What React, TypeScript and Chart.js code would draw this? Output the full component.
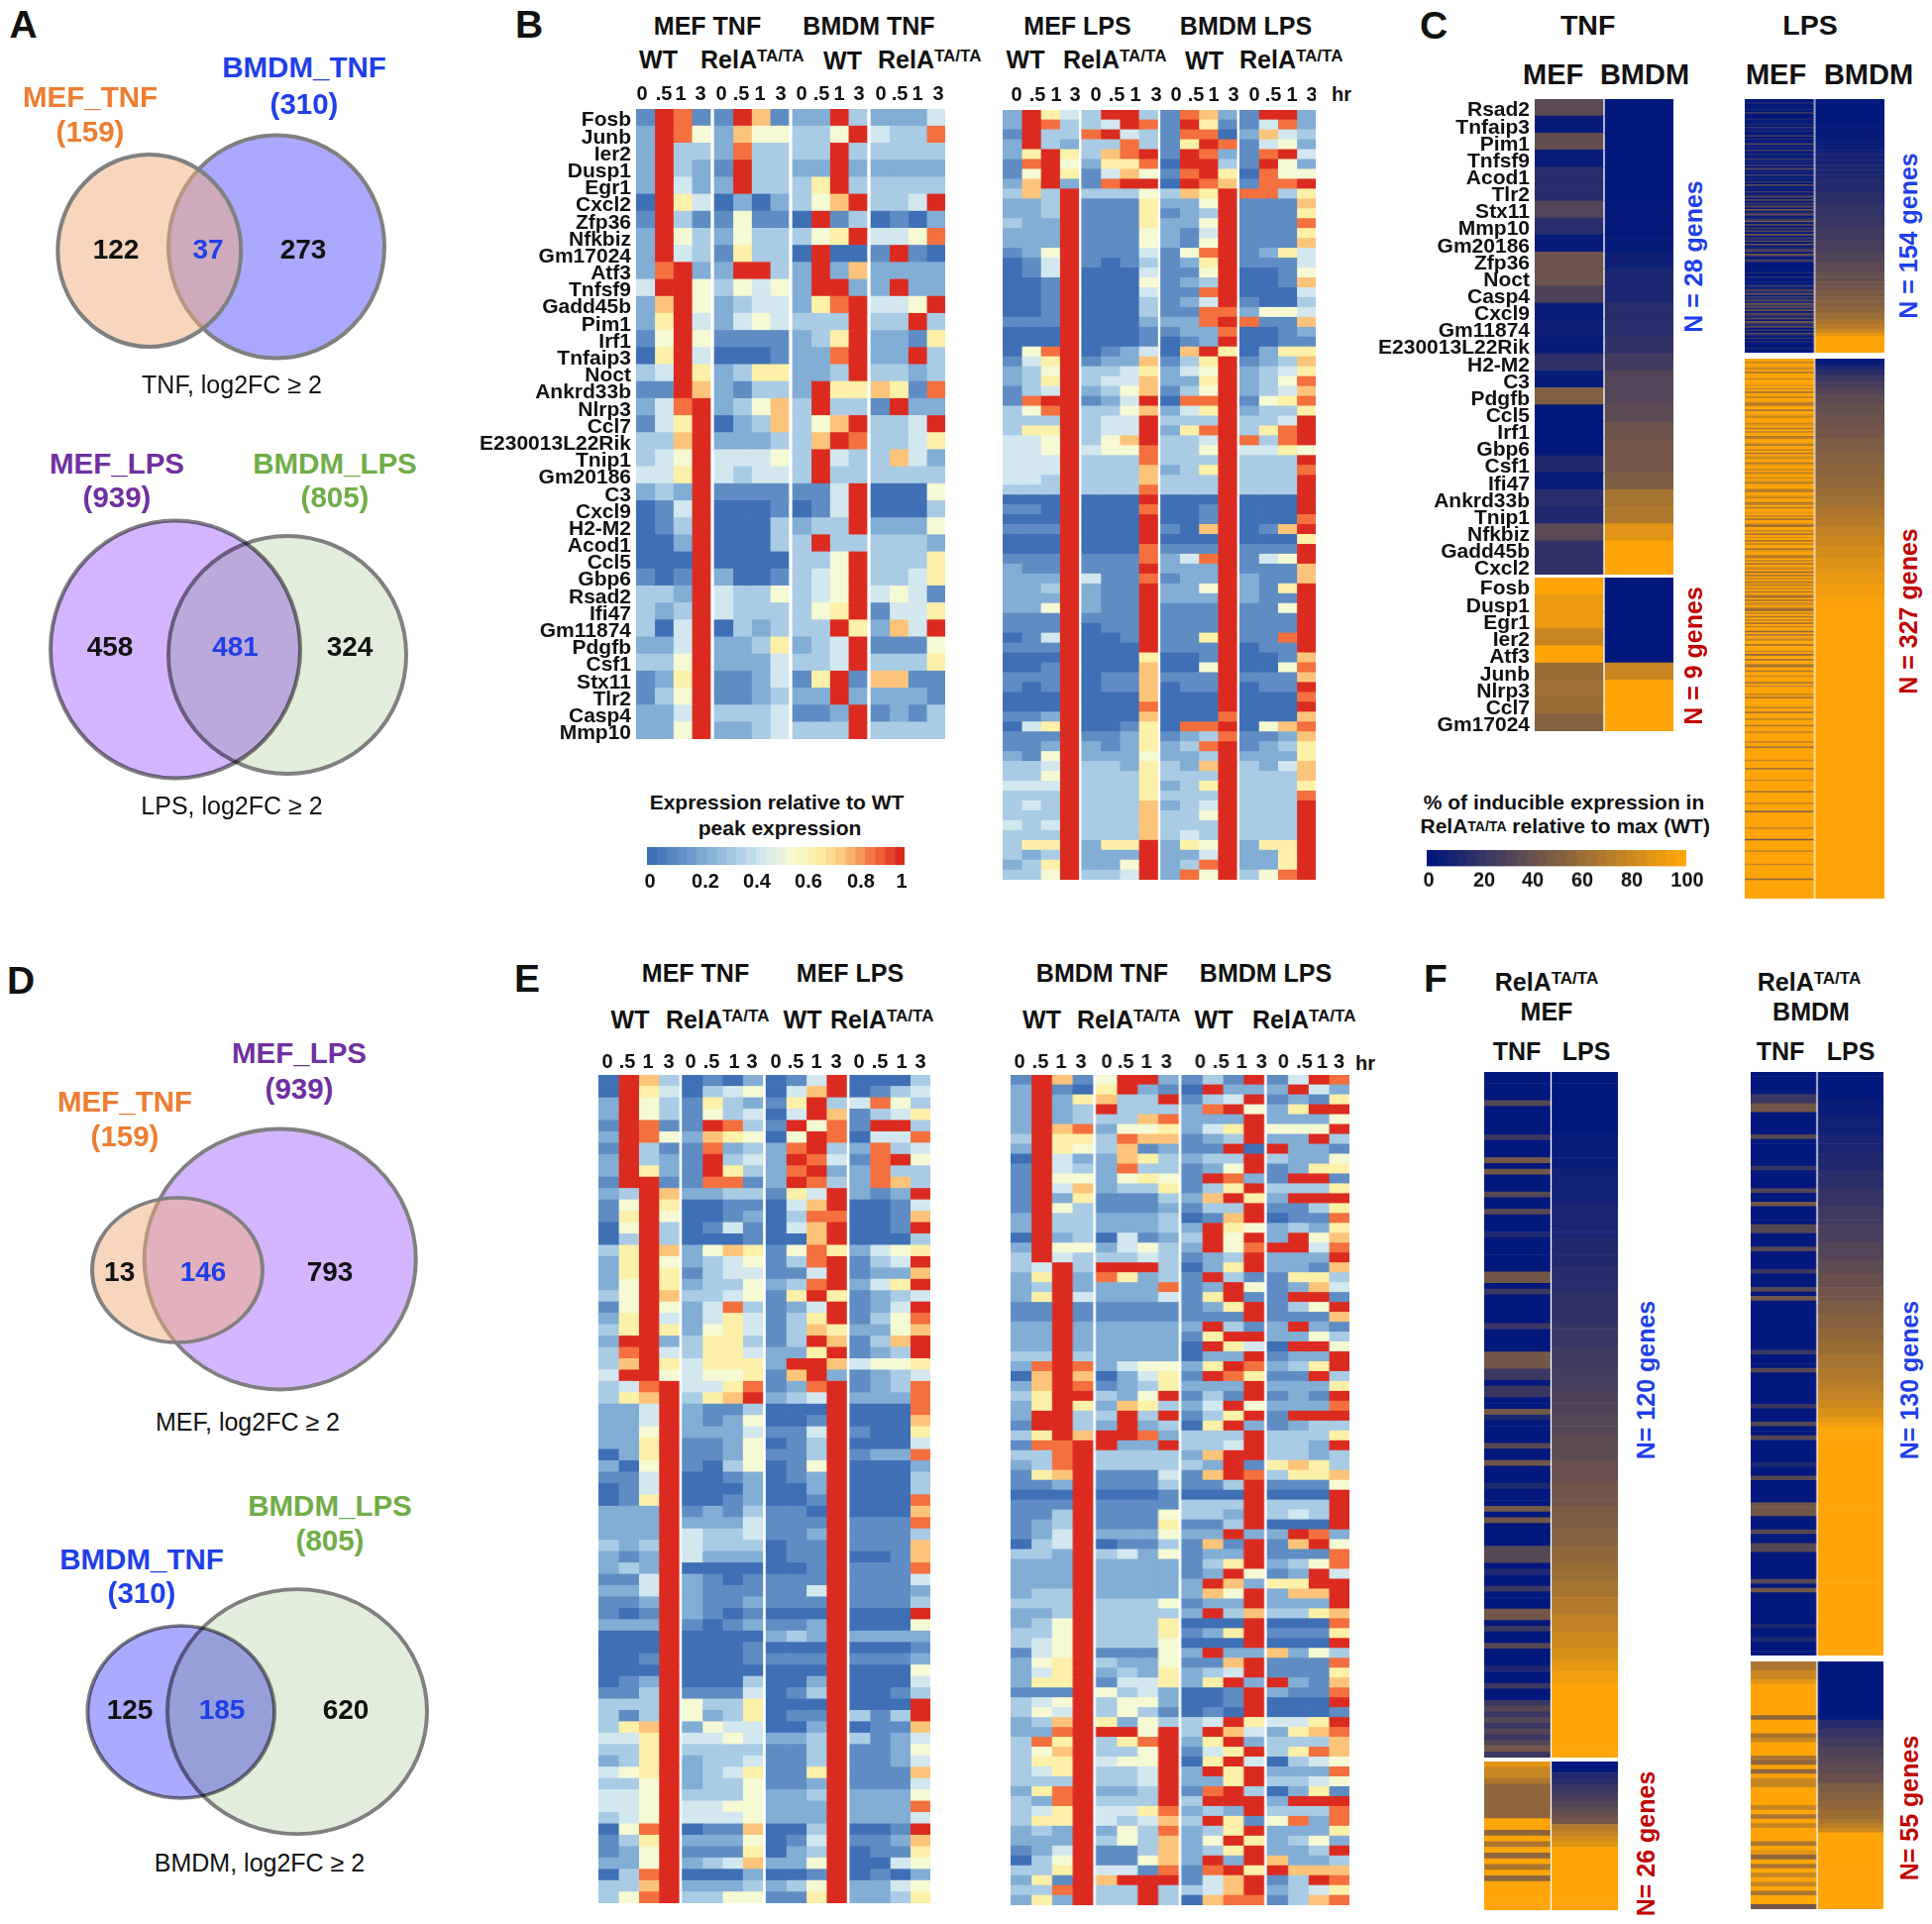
import React, { useEffect, useRef } from "react";
import { Chart, registerables } from "chart.js";

Chart.register(...registerables);

const FONT = "'Liberation Sans', Arial, sans-serif";

// ---------- Gene names ----------
const tnfGenes = ["Fosb","Junb","Ier2","Dusp1","Egr1","Cxcl2","Zfp36","Nfkbiz","Gm17024","Atf3","Tnfsf9","Gadd45b","Pim1","Irf1","Tnfaip3","Noct","Ankrd33b","Nlrp3","Ccl7","E230013L22Rik","Tnip1","Gm20186","C3","Cxcl9","H2-M2","Acod1","Ccl5","Gbp6","Rsad2","Ifi47","Gm11874","Pdgfb","Csf1","Stx11","Tlr2","Casp4","Mmp10"];
const cGenesTop = ["Rsad2","Tnfaip3","Pim1","Tnfsf9","Acod1","Tlr2","Stx11","Mmp10","Gm20186","Zfp36","Noct","Casp4","Cxcl9","Gm11874","E230013L22Rik","H2-M2","C3","Pdgfb","Ccl5","Irf1","Gbp6","Csf1","Ifi47","Ankrd33b","Tnip1","Nfkbiz","Gadd45b","Cxcl2"];
const cGenesBottom = ["Fosb","Dusp1","Egr1","Ier2","Atf3","Junb","Nlrp3","Ccl7","Gm17024"];

// ---------- Panel B, left heatmap (level 0-9, MEF WT | MEF RelA | BMDM WT | BMDM RelA) ----------
const heatBLeft = [
"1981 1971 2293 2224","2985 2755 3359 4338","2933 2833 3393 3333","2932 1933 2292 2222","2942 2933 3693 3333",
"0964 0202 3579 3349","1931 1511 0913 0102","2953 2533 3569 4458","2943 1633 0900 1910","2892 2993 2927 2222",
"4995 3545 2992 2922","2795 2344 2689 4459","2694 2454 3339 3393","1595 1111 2369 2216","0694 0001 2289 2293",
"3496 2366 2239 3323","1197 2133 2966 7618","2489 2357 3933 1922","1469 0237 3579 3349","3379 2223 3798 3346",
"3459 4445 3943 3742","4469 4344 3933 3333","2329 1111 1149 0005","0149 0001 0149 0003","0139 0003 2339 2225",
"0029 0003 3933 3332","0009 0000 3359 3336","1019 2001 3459 3346","3329 4335 3459 4541","3239 4333 3569 1446",
"3049 0323 3396 2749","2249 2236 2349 1115","3359 2224 3349 3336","1269 1124 1691 7711","1359 1123 2292 2221",
"2249 3334 1129 1213","2259 2234 3339 3333"];

const cTnfTopMef = [35,2,38,3,15,15,32,15,2,42,42,30,3,4,2,18,2,50,0,0,0,12,3,15,12,35,18,18];
const cTnfTopBmdm = [0,0,0,0,0,0,1,1,2,5,10,10,15,15,18,25,32,32,35,42,45,45,48,65,68,88,100,100];
const cTnfBottomMef = [100,92,92,78,100,60,62,60,52];
const cTnfBottomBmdm = [0,0,0,0,0,78,100,100,100];

// ---------- Panel B, right heatmap ----------
const heatBRight = [
"2964 3993 1872 1992","2983 3498 1961 1482","1933 8943 1880 2743","2932 3383 1698 1452","2696 3789 1982 1894",
"1895 2668 0993 1952","1596 1475 1896 0855","2792 1899 0987 1889","3739 3335 3769 8836","2239 1116 2259 1117",
"2239 1116 1239 1116","3229 1116 2259 1118","2229 1115 2149 1116","2229 1115 2159 1117","1259 1114 1589 1264",
"0149 1013 1269 1114","0149 0004 1159 0015","0019 0005 1239 0017","0019 0004 1189 0004","0019 0003 1249 1003",
"0019 0003 1188 2554","1119 0002 2289 8117","0009 0001 1228 0012","0009 0001 0129 0011","0589 0124 0796 0266",
"1469 1227 1369 1237","2359 3346 2459 2346","2369 3447 2269 2358","1349 2357 1359 2347","1899 1249 0889 1568",
"3589 3357 2469 2336","3339 3449 3339 3349","3669 3449 2689 3689","4459 3579 3349 8389","4459 4558 3359 4465",
"4449 3338 3339 3339","4449 3337 2369 3338","4439 3337 3339 3339","3339 3338 3339 3339","0009 0009 0009 0009",
"1109 0008 0019 0009","0009 0009 0019 0008","1119 0009 1079 0179","0009 0009 0009 0006","0009 0008 1119 1119",
"1119 1118 2489 1459","2119 1119 2229 1117","2229 4118 1229 2117","2239 2119 2259 2169","2229 2119 2229 2119",
"2259 2119 1119 1159","1119 1119 1119 1119","1119 0119 1119 1119","0149 0019 1169 1189","1119 0009 1119 0119",
"0009 0006 0019 0017","0019 0007 0059 0058","1119 0117 1119 1117","1019 0117 0119 0119","0009 0007 0009 0008",
"0009 0008 0009 0009","1129 0007 0008 0007","0469 0016 0889 0578","1119 1126 1238 1127","1129 2126 2389 1236",
"2159 2225 2239 2226","3349 3326 3279 3247","3359 3336 3339 3337","4449 3336 2369 3336","3339 3336 3339 3338",
"3439 3337 2349 3339","3339 3337 3359 3339","4349 3337 3339 3339","3339 3337 3439 3339","3669 2669 2659 2669",
"3239 2229 2249 2269","2369 2259 2389 2269","3359 3349 2859 3589"];

// ---------- Panel E, left heatmap (MEF TNF WT | MEF TNF RelA | MEF LPS WT | MEF LPS RelA) ----------
const heatELeft = [
"0973 0102 0149 0003","0964 0345 0479 0134","2953 1632 1693 4853","2953 1534 0497 1346","1981 1983 1958 1993",
"2985 2765 0598 0448","1931 1823 2893 2834","2932 1934 2984 1895","2962 1963 2892 2833","1991 1881 2983 2873",
"2397 2233 1649 2129","1596 0011 0479 0014","1695 0012 0388 0017","0593 0141 0479 0019","0393 0001 0079 0003",
"3697 2576 1586 2456","2695 2345 1389 1349","2696 1344 1149 1227","2596 2335 2389 2469","3597 3345 1696 1234",
"1595 2483 1249 1249","2694 2464 1369 1358","3696 2564 1376 2257","2992 3663 1397 1379","3894 3664 2269 1239",
"3796 4666 2997 4556","4995 4556 1792 1234","3489 4468 1289 1238","3679 3679 2349 2228","2249 2113 0009 0008",
"2249 2125 0019 0007","2259 2224 1149 1006","2269 1125 0139 0004","0269 1125 1139 1228","2059 1035 0159 0002",
"1149 0012 0129 0003","0149 0002 0029 0003","0169 0012 0019 0008","2229 1213 1109 0007","2229 2224 1119 1118",
"2229 4334 1129 1113","3239 4333 0119 1117","2129 4222 0119 0017","2329 0000 0019 1118","1149 2101 1119 1114",
"2249 2111 1149 1112","1129 2112 1119 1113","1019 2101 0009 0009","2229 1012 1129 0005","0009 0000 2329 2222",
"0009 0001 0009 0001","0019 0001 1119 1112","0009 0000 0009 0005","0129 0003 0029 0004","1139 1114 0139 0013",
"3339 5336 0009 0009","3139 5236 0119 3139","3679 2544 0029 0117","4469 4454 2239 3124","3369 3333 1139 1125",
"2369 2334 1139 1124","4569 2346 1169 1117","3359 2335 1129 1114","4459 3335 2239 2225","4459 4455 2229 2228",
"3459 4445 2229 2224","0589 0117 0039 0019","1369 2225 0149 1127","1259 1116 0239 0116","2259 2347 2259 0045",
"0389 0002 0019 0102","3379 2223 2359 2245","3589 3355 1169 2236"];

// ---------- Panel E, right heatmap (BMDM TNF WT | BMDM TNF RelA | BMDM LPS WT | BMDM LPS RelA) ----------
const heatERight = [
"1971 5992 1319 1498","2910 6921 0922 2942","2926 7339 1349 1216","2923 9333 2895 2699","2923 3378 2229 2225",
"2978 2556 2469 5559","3966 3877 1239 2293","2965 3712 1190 9221","0942 2763 2339 3225","1943 2833 1259 1266",
"1955 2565 1982 1991","1947 2336 1369 3336","1926 1113 2796 2999","1953 1112 1339 1136","2933 2223 0179 0118",
"2933 2223 2965 2326","0923 0412 3959 2957","2955 2453 2958 9948","3943 3343 1239 2229","3493 9993 0269 2217",
"2692 8623 1931 1663","2392 2228 1295 1274","2694 2224 1691 1991","1191 1111 1269 1359","1191 1111 1119 1117",
"2292 2222 2931 2921","2292 2222 1699 2253","2292 2222 0964 0995","3393 2222 0229 1229","2898 2455 2698 2369",
"0797 0246 1986 1193","2798 1236 2229 2226","3699 3259 1319 1219","2696 2763 2495 2228","2993 3939 1369 1999",
"1993 2923 0692 1233","3697 9982 3339 3336","1889 9229 3349 3329","3389 3333 2799 3323","2389 3333 3291 6763",
"1679 1114 1798 3667","1129 1113 1139 1115","0009 0001 0009 0009","1119 1111 3339 3339","1139 1115 3329 3439",
"1239 1116 1139 0009","1249 2225 2292 2982","0349 0113 1719 1795","3329 3425 1229 1118","2229 2222 1369 2358",
"2229 2222 1295 1294","2229 2222 2972 6699","2339 2222 2759 2779","3339 3335 1229 2229","2239 3333 2937 3367",
"2359 3336 0009 0008","3359 3336 1269 1116","3459 3335 0009 0009","1459 1115 2922 7253","2569 3225 1179 1118",
"2469 2326 2349 1116","2669 1446 2692 9217","1119 5342 0019 2118","3459 3552 0019 0009","3549 3531 0109 0001",
"2379 6253 3496 4469","2289 9959 3974 2678","3869 3689 2692 3337","3579 3359 1469 3687","3669 4559 0694 0345",
"3469 3349 2969 2228","3339 3349 2269 3345","2689 2239 1893 0261","3289 3339 3999 2999","3469 4468 2329 3338",
"3669 4347 3961 5828","2329 2538 2369 2226","2229 3537 2596 2352","1249 1137 2369 2239","0359 1157 2929 7223",
"3369 4418 1896 9777","2619 7999 1479 1398","3389 3393 3479 2346","2629 3393 0788 1378"];

// ---------- Panel C, LPS columns (stripes: level 0-9; sorted columns: [percent, rows]) ----------
const lpsTopMef = "00100010200010010201"+"00201003010201002010"+"20301020102030102013"+"03021304023012403021"+"30402130401230420130"+"00000100100002013040"+"21304231403213042130"+"20310201000100";
const lpsTopBmdmRuns = [[0,14],[2,10],[4,8],[7,8],[10,8],[13,8],[16,8],[19,8],[22,7],[25,7],[28,7],[31,6],[35,6],[39,6],[43,5],[47,5],[51,5],[55,4],[60,4],[66,3],[72,3],[80,2],[90,2],[100,10]];
const lpsBottomMef = "99799879699979998979"+"69979986799699879997"+"89697996799869979698"+"79968997969979869997"+"69987996796998979699"+"75997969896979968997"+"69796987959697968797"+"96975969789659796979"+"69799596987996999795"+"99699759969979996979"+"99979699999799699979"+"99699979999979969999"+"99979999699999979999"+"99699999979999599999"+"99997999999499999979"+"99999979999999959999"+"9999999";
const lpsBottomBmdmRuns = [[2,4],[10,3],[16,3],[22,4],[28,4],[32,4],[36,6],[39,6],[42,7],[45,7],[48,8],[51,8],[54,8],[57,6],[60,6],[63,6],[67,6],[71,6],[75,6],[79,6],[83,7],[87,8],[91,8],[95,8],[98,6],[100,176]];

// ---------- Panel F columns ----------
const fMefTopTnf = "0000030000"+"0200040400"+"0300300010"+"0000044020"+"0000200004"+"4422022004"+"1000030040"+"0010004040"+"0003330100"+"2000440200"+"3000100200"+"2323232342";
const fMefTopLpsRuns = [[0,11],[3,6],[6,6],[9,6],[12,5],[15,5],[18,5],[21,4],[24,4],[27,4],[30,4],[33,4],[36,4],[40,4],[44,4],[48,4],[52,3],[56,3],[60,3],[65,3],[70,3],[75,3],[80,3],[85,2],[90,2],[95,2],[100,13]];
const fMefBottomTnf = "87765555559959695969599999";
const fMefBottomLpsRuns = [[0,2],[12,1],[16,1],[20,1],[24,1],[28,1],[32,1],[36,1],[40,1],[44,1],[70,1],[76,1],[82,1],[88,1],[100,11]];
const fBmdmTopTnf = "0000022440"+"0000300000"+"0200003004"+"0000330003"+"0000200030"+"4000000000"+"0020003000"+"0000200030"+"0300000100"+"3000004440"+"0030033000"+"0003040000"+"0001001000";
const fBmdmTopLpsRuns = [[0,6],[3,4],[6,4],[9,4],[12,4],[16,4],[20,4],[24,4],[28,4],[32,4],[36,3],[40,3],[44,3],[48,3],[52,3],[56,3],[60,3],[64,3],[68,3],[72,2],[76,2],[80,2],[85,2],[90,1],[95,1],[100,51]];
const fBmdmBottomTnf = "6677899999995999679996595977999979697999698596979796994";
const fBmdmBottomLpsRuns = [[0,13],[15,2],[20,2],[25,2],[30,2],[33,2],[36,2],[40,2],[48,2],[52,2],[56,2],[60,2],[66,1],[72,1],[80,1],[100,17]];

// ---------- Colour-bar steps and ticks ----------
const exprSteps = [0,.04,.08,.12,.16,.2,.24,.28,.32,.36,.4,.44,.48,.52,.56,.6,.64,.68,.72,.76,.8,.84,.88,.92,.96,1];
const exprTickPx = [656,712,764,816,869,910];
const exprTickLabels = ["0","0.2","0.4","0.6","0.8","1"];
const pctSteps = [0,4,8,12,16,20,24,28,32,36,40,44,48,52,56,60,64,68,72,76,80,84,88,92,96,100];
const pctTickPx = [1442,1498,1547,1597,1647,1703];
const pctTickLabels = ["0","20","40","60","80","100"];

// ---------- Time ticks ----------
const timeLabels = ["0",".5","1","3","0",".5","1","3","0",".5","1","3","0",".5","1","3"];
const timeBLeftPx = [648,670,687,707,728,748,767,788,809,829,847,867,889,908,926,947];
const timeBRightPx = [1026,1047,1066,1085,1106,1127,1146,1167,1187,1207,1225,1245,1266,1285,1304,1324];
const timeELeftPx = [613,633,654,675,697,718,741,759,783,803,824,844,867,888,910,929];
const timeERightPx = [1029,1050,1071,1091,1117,1136,1157,1177,1211,1232,1253,1273,1295,1316,1334,1351];

// ---------- Venn sets (centre, horizontal and vertical radius in each diagram's own units) ----------
const vennATop = [{x:150.8,y:133,r:92.5,ry:97},{x:279,y:129,r:109,ry:112.5}];
const vennABottom = [{x:177,y:145.5,r:126,ry:130},{x:290,y:151,r:120,ry:120}];
const vennDTop = [{x:179,y:152,r:86,ry:73},{x:282.7,y:141,r:137,ry:131.5}];
const vennDBottom = [{x:182.7,y:133,r:94.3,ry:87},{x:300,y:132.6,r:131,ry:123.5}];

// ---------- Colours ----------
const EXPR = [[63,111,181],[95,141,195],[130,173,213],[169,203,228],[211,231,239],[245,249,212],[253,240,168],[252,196,122],[244,112,63],[219,43,32]];
const exprColor = (v) => {
  const t = Math.max(0, Math.min(1, v)) * 9;
  const i = Math.min(8, Math.floor(t));
  const f = t - i;
  const c = EXPR[i].map((a, k) => Math.round(a + (EXPR[i + 1][k] - a) * f));
  return `rgb(${c[0]},${c[1]},${c[2]})`;
};
const pctColor = (p) => {
  const f = p / 100;
  return `rgb(${Math.round(2 + 253 * f)},${Math.round(24 + 141 * f)},${Math.round(124 - 116 * f)})`;
};

const expand = (runs) => runs.flatMap(([p, n]) => Array(n).fill(p));
const pctOf = (s) => s.split("").map((d) => (Number(d) * 100) / 9);
const digitRows = (rows) => rows.map((r) => r.replace(/\s/g, "").split("").map((d) => Number(d) / 9));
const colsToRows = (cols) => {
  const n = Math.max(...cols.map((c) => c.length));
  return Array.from({ length: n }, (_, i) => cols.map((c) => c[Math.min(i, c.length - 1)]));
};
const arrsToRows = (a, b) => a.map((v, i) => [v, b[i]]);

// ---------- Heatmap drawn as stacked horizontal bars ----------
function Heat({ x, y, w, h, rows, color, groupSize, gap, labels, labelW = 0, tickPx, tickLabels, tickH = 0, tickPad = 2, tickBottom = false, tickSize = 20, padX = 0 }) {
  const ref = useRef(null);
  const padB = labels ? 12 : 0;
  useEffect(() => {
    const nCols = rows[0].length;
    const nGroups = Math.ceil(nCols / groupSize);
    const colW = (w - gap * (nGroups - 1)) / nCols;
    const gapUnits = gap / colW;
    const max = nCols + gapUnits * (nGroups - 1);
    const catLabels = labels || rows.map((_, i) => String(i));
    const datasets = [];
    for (let c = 0; c < nCols; c++) {
      if (c > 0 && c % groupSize === 0) {
        datasets.push({ data: rows.map(() => gapUnits), backgroundColor: "rgba(0,0,0,0)" });
      }
      datasets.push({ data: rows.map(() => 1), backgroundColor: rows.map((r) => color(r[c])) });
    }
    const tickVals = tickPx ? tickPx.map((p) => ((p - x) / w) * max) : [];
    const noPad = (s) => { s.paddingLeft = 0; s.paddingRight = 0; s.paddingTop = 0; s.paddingBottom = 0; };
    const chart = new Chart(ref.current, {
      type: "bar",
      data: { labels: catLabels, datasets },
      options: {
        indexAxis: "y",
        animation: false,
        responsive: false,
        maintainAspectRatio: false,
        devicePixelRatio: 1,
        events: [],
        layout: { padding: { left: padX, right: padX, top: 0, bottom: padB }, autoPadding: false },
        datasets: { bar: { barPercentage: 1, categoryPercentage: 1, borderWidth: 0 } },
        plugins: { legend: { display: false }, tooltip: { enabled: false }, title: { display: false } },
        scales: {
          y: {
            stacked: true,
            display: !!labels,
            grid: { display: false, drawTicks: false },
            border: { display: false },
            afterFit: (s) => { s.width = labelW; noPad(s); },
            ticks: { autoSkip: false, padding: 5, labelOffset: 3, color: "#111", font: { family: FONT, size: 21, weight: "bold" } },
          },
          x: {
            type: "linear",
            stacked: true,
            min: 0,
            max,
            display: !!tickPx,
            position: tickBottom ? "bottom" : "top",
            grid: { display: false, drawTicks: false },
            border: { display: false },
            afterFit: (s) => { s.height = tickH; noPad(s); },
            afterBuildTicks: (s) => { s.ticks = tickVals.map((value) => ({ value })); },
            ticks: {
              autoSkip: false,
              maxRotation: 0,
              minRotation: 0,
              padding: tickPad,
              color: "#111",
              font: { family: FONT, size: tickSize, weight: "bold" },
              callback: (_v, i) => tickLabels[i],
            },
          },
        },
      },
    });
    return () => chart.destroy();
  }, []);
  const cw = w + labelW + padX * 2;
  const ch = h + tickH + padB;
  return (
    <canvas
      ref={ref}
      width={cw}
      height={ch}
      style={{ position: "absolute", left: x - labelW - padX, top: tickBottom ? y : y - tickH, width: cw, height: ch, display: "block" }}
    />
  );
}

// ---------- Venn diagrams: bubble chart, each bubble stretched to its vertical radius ----------
const ellipsePlugin = {
  id: "ellipse",
  beforeDatasetDraw(chart, args) {
    const ds = chart.data.datasets[args.index];
    const p = args.meta.data[0];
    const ctx = chart.ctx;
    ctx.save();
    if (ds.blend) ctx.globalCompositeOperation = ds.blend;
    ctx.translate(p.x, p.y);
    ctx.scale(1, ds.data[0].ry / ds.data[0].r);
    ctx.translate(-p.x, -p.y);
  },
  afterDatasetDraw(chart) {
    chart.ctx.restore();
  },
};

function Venn({ top, height, sets, fills, blends }) {
  const ref = useRef(null);
  useEffect(() => {
    const chart = new Chart(ref.current, {
      type: "bubble",
      data: {
        datasets: sets.map((s, i) => ({
          data: [s],
          backgroundColor: fills[i],
          borderColor: "#808080",
          borderWidth: 4,
          blend: blends ? blends[i] : undefined,
          clip: false,
        })),
      },
      options: {
        animation: false,
        responsive: false,
        maintainAspectRatio: false,
        devicePixelRatio: 1,
        events: [],
        layout: { padding: 0, autoPadding: false },
        plugins: { legend: { display: false }, tooltip: { enabled: false } },
        scales: {
          x: { type: "linear", min: 0, max: 480, display: false },
          y: { type: "linear", min: 0, max: height, reverse: true, display: false },
        },
      },
      plugins: [ellipsePlugin],
    });
    return () => chart.destroy();
  }, []);
  return <canvas ref={ref} width={480} height={height} style={{ position: "absolute", left: 0, top, width: 480, height, display: "block" }} />;
}

// ---------- Text ----------
function T({ x, y, s = 25, c = "#111", w = "bold", a = "c", r = false, children }) {
  const tx = a === "c" ? "-50%" : a === "r" ? "-100%" : "0";
  return (
    <div
      style={{
        position: "absolute",
        left: x,
        top: y,
        fontFamily: FONT,
        fontSize: s,
        fontWeight: w,
        color: c,
        lineHeight: 1,
        whiteSpace: "nowrap",
        transform: `translate(${tx},-50%)${r ? " rotate(-90deg)" : ""}`,
      }}
    >
      {children}
    </div>
  );
}
const Rela = () => (
  <span>RelA<span style={{ fontSize: 17, verticalAlign: 7, lineHeight: 0 }}>TA/TA</span></span>
);

const ORANGE = "#ed7d31";
const BLUE = "#1f3fe8";
const PURPLE = "#7030a0";
const GREEN = "#70ad47";
const RED = "#c00000";

export default function App() {
  return (
    <div style={{ position: "absolute", left: 0, top: 0, width: 1950, height: 1942, background: "#fff", overflow: "hidden" }}>
      {/* Panel letters */}
      <T x={23.5} y={24} s={39}>A</T>
      <T x={534} y={24} s={39}>B</T>
      <T x={1447} y={25} s={39}>C</T>
      <T x={21} y={989} s={39}>D</T>
      <T x={532} y={987} s={39}>E</T>
      <T x={1449} y={987} s={39}>F</T>

      {/* Panel A */}
      <Venn top={120} height={260} sets={vennATop} fills={["rgba(241,173,123,0.5)", "rgba(86,84,255,0.5)"]} />
      <T x={307} y={68} s={29.5} c={BLUE}>BMDM_TNF</T>
      <T x={307} y={105} s={29.5} c={BLUE}>(310)</T>
      <T x={91} y={98} s={29.5} c={ORANGE}>MEF_TNF</T>
      <T x={91} y={133} s={29.5} c={ORANGE}>(159)</T>
      <T x={117} y={252} s={28}>122</T>
      <T x={210} y={252} s={28} c={BLUE}>37</T>
      <T x={306} y={252} s={28}>273</T>
      <T x={234} y={388} s={25} w="normal">TNF, log2FC ≥ 2</T>

      <Venn top={510} height={290} sets={vennABottom} fills={["#d4b5ff", "#e2eedb"]} blends={["multiply", undefined]} />
      <T x={118} y={468} s={29.5} c={PURPLE}>MEF_LPS</T>
      <T x={118} y={502} s={29.5} c={PURPLE}>(939)</T>
      <T x={338} y={468} s={29.5} c={GREEN}>BMDM_LPS</T>
      <T x={338} y={502} s={29.5} c={GREEN}>(805)</T>
      <T x={111} y={653} s={28}>458</T>
      <T x={237.5} y={653} s={28} c={BLUE}>481</T>
      <T x={353} y={653} s={28}>324</T>
      <T x={234} y={813} s={25} w="normal">LPS, log2FC ≥ 2</T>

      {/* Panel D */}
      <Venn top={1130} height={285} sets={vennDTop} fills={["rgba(241,173,123,0.5)", "rgba(169,107,255,0.5)"]} />
      <T x={302} y={1063} s={29.5} c={PURPLE}>MEF_LPS</T>
      <T x={302} y={1099} s={29.5} c={PURPLE}>(939)</T>
      <T x={126} y={1112} s={29.5} c={ORANGE}>MEF_TNF</T>
      <T x={126} y={1147} s={29.5} c={ORANGE}>(159)</T>
      <T x={120.7} y={1284} s={28}>13</T>
      <T x={205} y={1284} s={28} c={BLUE}>146</T>
      <T x={333} y={1284} s={28}>793</T>
      <T x={250} y={1435} s={25} w="normal">MEF, log2FC ≥ 2</T>

      <Venn top={1595} height={265} sets={vennDBottom} fills={["#aaaaff", "#e2eedb"]} blends={["multiply", undefined]} />
      <T x={333} y={1520} s={29.5} c={GREEN}>BMDM_LPS</T>
      <T x={333} y={1555} s={29.5} c={GREEN}>(805)</T>
      <T x={143} y={1574} s={29.5} c={BLUE}>BMDM_TNF</T>
      <T x={143} y={1608} s={29.5} c={BLUE}>(310)</T>
      <T x={131} y={1726} s={28}>125</T>
      <T x={224} y={1726} s={28} c={BLUE}>185</T>
      <T x={349} y={1726} s={28}>620</T>
      <T x={262} y={1880} s={25} w="normal">BMDM, log2FC ≥ 2</T>

      {/* Panel B */}
      <T x={714} y={26}>MEF TNF</T>
      <T x={877} y={26}>BMDM TNF</T>
      <T x={664.5} y={60}>WT</T>
      <T x={707} y={60} a="l"><Rela /></T>
      <T x={850.5} y={61}>WT</T>
      <T x={886} y={60} a="l"><Rela /></T>
      <T x={1087.5} y={26}>MEF LPS</T>
      <T x={1257.5} y={26}>BMDM LPS</T>
      <T x={1035} y={60}>WT</T>
      <T x={1073} y={60} a="l"><Rela /></T>
      <T x={1215.5} y={61}>WT</T>
      <T x={1251} y={60} a="l"><Rela /></T>
      <T x={1354} y={95} s={20}>hr</T>
      <Heat x={642} y={110} w={312} h={636} rows={digitRows(heatBLeft)} color={exprColor} groupSize={4} gap={4}
        labels={tnfGenes} labelW={170} tickPx={timeBLeftPx} tickLabels={timeLabels} tickH={30} tickPad={3} />
      <Heat x={1012} y={111} w={316} h={777} rows={digitRows(heatBRight)} color={exprColor} groupSize={4} gap={3}
        tickPx={timeBRightPx} tickLabels={timeLabels} tickH={31} tickPad={3} />
      <T x={784} y={809} s={21}>Expression relative to WT</T>
      <T x={787} y={835} s={21}>peak expression</T>
      <Heat x={653} y={855} w={260} h={18} rows={[exprSteps]} color={exprColor} groupSize={26} gap={0} padX={24}
        tickPx={exprTickPx} tickLabels={exprTickLabels} tickH={32} tickPad={5} tickBottom />

      {/* Panel C */}
      <T x={1602.6} y={25} s={28.5}>TNF</T>
      <T x={1827} y={25} s={28.5}>LPS</T>
      <T x={1567.7} y={74.5} s={29}>MEF</T>
      <T x={1660} y={74.5} s={29}>BMDM</T>
      <T x={1792.5} y={74.5} s={29}>MEF</T>
      <T x={1886} y={74.5} s={29}>BMDM</T>
      <Heat x={1549} y={100} w={140} h={480} rows={arrsToRows(cTnfTopMef, cTnfTopBmdm)} color={pctColor} groupSize={1} gap={2}
        labels={cGenesTop} labelW={170} />
      <Heat x={1549} y={583} w={140} h={155} rows={arrsToRows(cTnfBottomMef, cTnfBottomBmdm)} color={pctColor} groupSize={1} gap={2}
        labels={cGenesBottom} labelW={170} />
      <Heat x={1761} y={100} w={140.5} h={256} rows={colsToRows([pctOf(lpsTopMef), expand(lpsTopBmdmRuns)])} color={pctColor} groupSize={1} gap={2} />
      <Heat x={1761} y={361.5} w={140.5} h={545} rows={colsToRows([pctOf(lpsBottomMef), expand(lpsBottomBmdmRuns)])} color={pctColor} groupSize={1} gap={2} />
      <T x={1709} y={259} c={BLUE} r>N = 28 genes</T>
      <T x={1709} y={662} c={RED} r>N = 9 genes</T>
      <T x={1926} y={238} c={BLUE} r>N = 154 genes</T>
      <T x={1926} y={617} c={RED} r>N = 327 genes</T>
      <T x={1578.5} y={809} s={21}>% of inducible expression in</T>
      <T x={1433.5} y={833} s={21} a="l">RelA<span style={{ fontSize: 14, verticalAlign: 2 }}>TA/TA</span> relative to max (WT)</T>
      <Heat x={1440} y={858} w={262} h={16.5} rows={[pctSteps]} color={pctColor} groupSize={26} gap={0} padX={24}
        tickPx={pctTickPx} tickLabels={pctTickLabels} tickH={30} tickPad={2} tickBottom />

      {/* Panel E */}
      <T x={702} y={982}>MEF TNF</T>
      <T x={858} y={982}>MEF LPS</T>
      <T x={636} y={1029}>WT</T>
      <T x={672} y={1029} a="l"><Rela /></T>
      <T x={810} y={1029}>WT</T>
      <T x={838} y={1029} a="l"><Rela /></T>
      <T x={1112.5} y={982}>BMDM TNF</T>
      <T x={1277.5} y={982}>BMDM LPS</T>
      <T x={1051.5} y={1029}>WT</T>
      <T x={1087} y={1029} a="l"><Rela /></T>
      <T x={1225} y={1029}>WT</T>
      <T x={1264} y={1029} a="l"><Rela /></T>
      <T x={1378} y={1073} s={20}>hr</T>
      <Heat x={604} y={1085} w={335} h={836} rows={digitRows(heatELeft)} color={exprColor} groupSize={4} gap={3.3}
        tickPx={timeELeftPx} tickLabels={timeLabels} tickH={30} tickPad={1} />
      <Heat x={1020} y={1085} w={341.5} h={838} rows={digitRows(heatERight)} color={exprColor} groupSize={4} gap={3.2}
        tickPx={timeERightPx} tickLabels={timeLabels} tickH={30} tickPad={1} />

      {/* Panel F */}
      <T x={1561} y={991} a="c"><Rela /></T>
      <T x={1561} y={1021}>MEF</T>
      <T x={1531} y={1061}>TNF</T>
      <T x={1601} y={1061}>LPS</T>
      <T x={1826} y={991} a="c"><Rela /></T>
      <T x={1828} y={1021}>BMDM</T>
      <T x={1797} y={1061}>TNF</T>
      <T x={1868} y={1061}>LPS</T>
      <Heat x={1498} y={1082} w={135.3} h={692} rows={colsToRows([pctOf(fMefTopTnf), expand(fMefTopLpsRuns)])} color={pctColor} groupSize={1} gap={2} />
      <Heat x={1498} y={1778} w={135.3} h={150} rows={colsToRows([pctOf(fMefBottomTnf), expand(fMefBottomLpsRuns)])} color={pctColor} groupSize={1} gap={2} />
      <Heat x={1767} y={1082} w={133.5} h={589} rows={colsToRows([pctOf(fBmdmTopTnf), expand(fBmdmTopLpsRuns)])} color={pctColor} groupSize={1} gap={2} />
      <Heat x={1767} y={1677} w={133.5} h={250} rows={colsToRows([pctOf(fBmdmBottomTnf), expand(fBmdmBottomLpsRuns)])} color={pctColor} groupSize={1} gap={2} />
      <T x={1661} y={1392.5} c={BLUE} r>N= 120 genes</T>
      <T x={1661} y={1861} c={RED} r>N= 26 genes</T>
      <T x={1927} y={1392.5} c={BLUE} r>N= 130 genes</T>
      <T x={1927} y={1825} c={RED} r>N= 55 genes</T>
    </div>
  );
}
